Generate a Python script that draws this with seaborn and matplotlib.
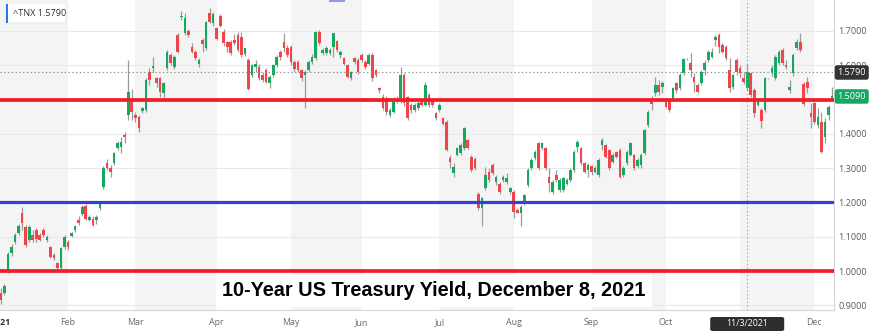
import numpy as np
import pandas as pd
import matplotlib
matplotlib.use("Agg")
import matplotlib.pyplot as plt
import seaborn as sns
from matplotlib.patches import Rectangle, FancyBboxPatch
from matplotlib.transforms import blended_transform_factory

sns.set_theme(style="white")
plt.rcParams["font.family"] = ["Open Sans", "DejaVu Sans"]

# ---------------- data (daily ^TNX candles, Jan 4 - Dec 8, 2021) ----------------
open_ = [
    0.935, 0.935, 1.000, 1.052, 1.086, 1.110, 1.168, 1.129, 1.090, 1.105, 1.120, 1.105, 1.120, 1.090, 1.069, 1.048, 1.022, 1.008, 1.070,
    1.085, 1.102, 1.120, 1.148, 1.166, 1.190, 1.150, 1.153, 1.148, 1.183, 1.246, 1.314, 1.300, 1.314, 1.358, 1.362, 1.398, 1.455, 1.500,
    1.455, 1.450, 1.466, 1.470, 1.581, 1.593, 1.562, 1.562, 1.520, 1.591, 1.630, 1.595, 1.688, 1.742, 1.693, 1.700, 1.654, 1.640, 1.605, 1.675, 1.649, 1.753, 1.722,
    1.708, 1.745, 1.698, 1.668, 1.669, 1.675, 1.688, 1.683, 1.633, 1.615, 1.571, 1.596, 1.596, 1.572, 1.586, 1.547, 1.572, 1.600, 1.640, 1.668, 1.650,
    1.654, 1.610, 1.610, 1.586, 1.571, 1.586, 1.610, 1.620, 1.698, 1.635, 1.635, 1.635, 1.654, 1.670, 1.630, 1.620, 1.600, 1.562, 1.620, 1.615,
    1.630, 1.610, 1.605, 1.630, 1.586, 1.535, 1.508, 1.503, 1.455, 1.464, 1.498, 1.499, 1.571, 1.508, 1.484, 1.469, 1.474, 1.494, 1.484, 1.513, 1.498, 1.460,
    1.469, 1.445, 1.435, 1.329, 1.285, 1.338, 1.343, 1.358, 1.382, 1.333, 1.328, 1.226, 1.183, 1.241, 1.290, 1.309, 1.260, 1.255, 1.265, 1.260, 1.231,
    1.231, 1.178, 1.168, 1.197, 1.251, 1.300, 1.329, 1.372, 1.358, 1.358, 1.275, 1.231, 1.280, 1.236, 1.236, 1.255, 1.265, 1.294, 1.362, 1.358, 1.314, 1.294,
    1.305, 1.290, 1.280, 1.367, 1.367, 1.353, 1.319, 1.348, 1.353, 1.280, 1.314, 1.338, 1.338, 1.305, 1.310, 1.343, 1.426, 1.494, 1.518, 1.542, 1.537,
    1.494, 1.499, 1.499, 1.547, 1.533, 1.578, 1.617, 1.606, 1.567, 1.542, 1.547, 1.586, 1.616, 1.625, 1.674, 1.688, 1.659, 1.654, 1.586, 1.537, 1.615,
    1.591, 1.562, 1.533, 1.576, 1.528, 1.484, 1.470, 1.470, 1.562, 1.576, 1.562, 1.606, 1.645, 1.601, 1.528, 1.576, 1.650, 1.669, 1.545, 1.552, 1.460,
    1.489, 1.426, 1.435, 1.392, 1.455, 1.505,
]
high = [
    0.950, 0.962, 1.056, 1.080, 1.110, 1.136, 1.187, 1.134, 1.134, 1.120, 1.125, 1.110, 1.125, 1.105, 1.073, 1.053, 1.027, 1.071, 1.105,
    1.090, 1.115, 1.135, 1.160, 1.192, 1.195, 1.163, 1.160, 1.163, 1.200, 1.305, 1.328, 1.309, 1.348, 1.378, 1.392, 1.405, 1.615, 1.530,
    1.465, 1.455, 1.478, 1.562, 1.591, 1.625, 1.565, 1.565, 1.550, 1.645, 1.635, 1.630, 1.693, 1.757, 1.752, 1.705, 1.665, 1.645, 1.620, 1.680, 1.730, 1.766, 1.755,
    1.712, 1.750, 1.705, 1.670, 1.675, 1.690, 1.698, 1.698, 1.650, 1.620, 1.605, 1.615, 1.605, 1.580, 1.591, 1.572, 1.605, 1.630, 1.645, 1.693, 1.660,
    1.660, 1.615, 1.615, 1.590, 1.586, 1.615, 1.632, 1.700, 1.703, 1.650, 1.655, 1.650, 1.695, 1.675, 1.645, 1.625, 1.605, 1.583, 1.625, 1.620,
    1.635, 1.615, 1.635, 1.635, 1.590, 1.538, 1.515, 1.510, 1.475, 1.508, 1.510, 1.595, 1.576, 1.510, 1.490, 1.490, 1.495, 1.500, 1.550, 1.518, 1.505, 1.465,
    1.490, 1.450, 1.440, 1.338, 1.314, 1.362, 1.372, 1.420, 1.385, 1.338, 1.333, 1.231, 1.217, 1.304, 1.300, 1.314, 1.280, 1.260, 1.280, 1.285, 1.246,
    1.236, 1.183, 1.193, 1.226, 1.300, 1.330, 1.352, 1.377, 1.377, 1.362, 1.300, 1.265, 1.296, 1.270, 1.275, 1.270, 1.300, 1.352, 1.382, 1.362, 1.318, 1.314,
    1.310, 1.305, 1.330, 1.387, 1.370, 1.355, 1.343, 1.350, 1.360, 1.305, 1.352, 1.375, 1.340, 1.330, 1.345, 1.415, 1.470, 1.510, 1.567, 1.557, 1.555,
    1.500, 1.505, 1.537, 1.552, 1.576, 1.620, 1.620, 1.635, 1.577, 1.547, 1.586, 1.615, 1.645, 1.650, 1.688, 1.693, 1.665, 1.660, 1.620, 1.575, 1.620,
    1.600, 1.580, 1.605, 1.581, 1.533, 1.505, 1.475, 1.567, 1.564, 1.600, 1.630, 1.645, 1.650, 1.615, 1.557, 1.635, 1.676, 1.693, 1.550, 1.567, 1.489,
    1.494, 1.474, 1.465, 1.445, 1.484, 1.537,
]
low = [
    0.905, 0.930, 0.995, 1.045, 1.080, 1.105, 1.120, 1.070, 1.085, 1.085, 1.085, 1.087, 1.100, 1.085, 1.038, 1.032, 1.000, 1.003, 1.065,
    1.062, 1.098, 1.115, 1.135, 1.160, 1.148, 1.145, 1.130, 1.138, 1.178, 1.240, 1.294, 1.275, 1.309, 1.353, 1.343, 1.373, 1.440, 1.440,
    1.435, 1.405, 1.460, 1.465, 1.542, 1.581, 1.537, 1.508, 1.500, 1.586, 1.600, 1.590, 1.635, 1.733, 1.688, 1.683, 1.635, 1.615, 1.595, 1.640, 1.645, 1.722, 1.715,
    1.675, 1.712, 1.655, 1.640, 1.630, 1.660, 1.640, 1.625, 1.628, 1.528, 1.565, 1.580, 1.557, 1.552, 1.547, 1.535, 1.565, 1.596, 1.615, 1.640, 1.625,
    1.600, 1.580, 1.580, 1.555, 1.474, 1.580, 1.605, 1.615, 1.660, 1.630, 1.630, 1.630, 1.625, 1.640, 1.620, 1.600, 1.562, 1.557, 1.605, 1.575,
    1.610, 1.590, 1.600, 1.555, 1.565, 1.518, 1.470, 1.455, 1.450, 1.460, 1.490, 1.489, 1.480, 1.440, 1.460, 1.465, 1.470, 1.480, 1.480, 1.478, 1.478, 1.440,
    1.465, 1.425, 1.350, 1.300, 1.275, 1.335, 1.338, 1.353, 1.355, 1.290, 1.295, 1.178, 1.130, 1.236, 1.260, 1.280, 1.250, 1.226, 1.260, 1.255, 1.226,
    1.154, 1.168, 1.130, 1.192, 1.246, 1.295, 1.325, 1.294, 1.353, 1.295, 1.231, 1.226, 1.260, 1.230, 1.230, 1.250, 1.260, 1.290, 1.348, 1.310, 1.285, 1.275,
    1.280, 1.285, 1.275, 1.352, 1.330, 1.295, 1.315, 1.330, 1.270, 1.275, 1.310, 1.335, 1.295, 1.300, 1.300, 1.338, 1.420, 1.470, 1.510, 1.513, 1.518,
    1.475, 1.465, 1.495, 1.520, 1.528, 1.573, 1.615, 1.567, 1.523, 1.518, 1.542, 1.571, 1.610, 1.620, 1.655, 1.635, 1.635, 1.615, 1.523, 1.530, 1.572,
    1.567, 1.545, 1.528, 1.508, 1.450, 1.480, 1.416, 1.465, 1.560, 1.570, 1.557, 1.600, 1.600, 1.590, 1.520, 1.570, 1.645, 1.640, 1.480, 1.518, 1.416,
    1.430, 1.416, 1.345, 1.372, 1.440, 1.499,
]
close = [
    0.915, 0.957, 1.050, 1.071, 1.105, 1.131, 1.139, 1.076, 1.129, 1.090, 1.093, 1.090, 1.105, 1.100, 1.042, 1.037, 1.008, 1.066, 1.098,
    1.071, 1.110, 1.130, 1.139, 1.186, 1.153, 1.158, 1.135, 1.158, 1.195, 1.300, 1.300, 1.290, 1.343, 1.372, 1.376, 1.390, 1.522, 1.465,
    1.447, 1.416, 1.474, 1.557, 1.557, 1.598, 1.547, 1.523, 1.548, 1.640, 1.606, 1.625, 1.640, 1.744, 1.737, 1.688, 1.640, 1.620, 1.615, 1.663, 1.727, 1.727, 1.750,
    1.678, 1.715, 1.664, 1.654, 1.635, 1.665, 1.644, 1.630, 1.649, 1.532, 1.600, 1.605, 1.562, 1.557, 1.552, 1.567, 1.600, 1.625, 1.623, 1.650, 1.630,
    1.610, 1.590, 1.586, 1.562, 1.581, 1.610, 1.625, 1.698, 1.664, 1.644, 1.649, 1.644, 1.693, 1.645, 1.640, 1.605, 1.567, 1.581, 1.610, 1.581,
    1.615, 1.596, 1.630, 1.562, 1.571, 1.527, 1.474, 1.464, 1.469, 1.503, 1.503, 1.571, 1.489, 1.445, 1.469, 1.484, 1.489, 1.484, 1.542, 1.484, 1.484, 1.445,
    1.484, 1.430, 1.353, 1.319, 1.304, 1.358, 1.367, 1.416, 1.358, 1.294, 1.299, 1.183, 1.212, 1.280, 1.265, 1.285, 1.275, 1.231, 1.275, 1.270, 1.241,
    1.173, 1.170, 1.188, 1.222, 1.295, 1.324, 1.348, 1.300, 1.372, 1.300, 1.256, 1.260, 1.265, 1.265, 1.270, 1.265, 1.294, 1.348, 1.377, 1.314, 1.290, 1.309,
    1.290, 1.300, 1.324, 1.382, 1.333, 1.300, 1.338, 1.333, 1.275, 1.300, 1.348, 1.372, 1.300, 1.325, 1.338, 1.411, 1.465, 1.488, 1.542, 1.523, 1.547,
    1.479, 1.470, 1.533, 1.528, 1.572, 1.617, 1.618, 1.586, 1.552, 1.523, 1.581, 1.606, 1.640, 1.640, 1.683, 1.654, 1.640, 1.620, 1.533, 1.572, 1.581,
    1.576, 1.552, 1.579, 1.513, 1.460, 1.499, 1.436, 1.562, 1.563, 1.591, 1.625, 1.640, 1.606, 1.596, 1.538, 1.630, 1.669, 1.645, 1.487, 1.533, 1.450,
    1.435, 1.450, 1.348, 1.435, 1.479, 1.509,
]
market_holidays = ["2021-01-18", "2021-02-15", "2021-04-02", "2021-05-31",
                   "2021-07-05", "2021-09-06", "2021-11-25"]
month_labels = ["2021", "Feb", "Mar", "Apr", "May", "Jun", "Jul", "Aug", "Sep", "Oct", "Nov", "Dec"]
y_ticks = [0.9, 1.0, 1.1, 1.2, 1.3, 1.4, 1.5, 1.6, 1.7]
red_levels = [1.0, 1.5]
blue_levels = [1.2]
hover_date = "2021-11-03"
hover_value = 1.579
last_value = 1.509
title = "10-Year US Treasury Yield, December 8, 2021"

# ---------------- frame ----------------
dates = pd.bdate_range("2021-01-04", "2021-12-08")
dates = dates[~dates.isin(pd.to_datetime(market_holidays))]
df = pd.DataFrame({"date": dates, "open": open_, "high": high, "low": low, "close": close})
df["idx"] = np.arange(len(df))
df["up"] = df["close"] >= df["open"]
month_start = df.groupby(df["date"].dt.month)["idx"].min().tolist()

W, H = 870, 333
fig = plt.figure(figsize=(W / 100, H / 100), dpi=100)
fig.patch.set_facecolor("white")
ax = fig.add_axes([0, 23 / H, 834 / W, 310 / H])
ax.set_facecolor("white")

x_left, x_right = -0.254, 235.54
ax.set_xlim(x_left, x_right)
ax.set_ylim(0.8863, 1.7903)

# alternate month shading (Jan, Mar, May, Jul, Sep, Nov)
bounds = month_start + [x_right]
for m in range(0, 12, 2):
    a = x_left if m == 0 else bounds[m]
    ax.axvspan(a, bounds[m + 1], color="#f4f4f4", lw=0, zorder=0)

for t in y_ticks:
    ax.axhline(t, color="#e9e9e9", lw=0.8, zorder=0.5)

# candles
green, red = "#16a85e", "#f0464b"
ax.vlines(df["idx"], df["low"], df["high"], color="#9b9b9b", lw=0.9, zorder=2)
body_bot = np.minimum(df["open"], df["close"])
body_h = np.maximum(np.abs(df["close"] - df["open"]), 0.002)
ax.bar(df["idx"], body_h, bottom=body_bot, width=0.74,
       color=np.where(df["up"], green, red), lw=0, zorder=3)

# dotted crosshair
hover_idx = int(df.loc[df["date"] == pd.Timestamp(hover_date), "idx"].iloc[0])
ax.axhline(hover_value, color="#8f8f8f", lw=0.8, ls=(0, (1.2, 2.2)), zorder=4)
ax.axvline(hover_idx, color="#a0a0a0", lw=0.8, ls=(0, (1.2, 2.2)), zorder=4)

# support / resistance lines
for lv in red_levels:
    ax.axhline(lv, color="#ee1f2a", lw=2.7, zorder=5)
for lv in blue_levels:
    ax.axhline(lv, color="#3a3fd2", lw=2.3, zorder=5)

# axes styling
for s in ["left", "top"]:
    ax.spines[s].set_visible(False)
ax.spines["bottom"].set_color("#d6d6d6")
ax.spines["bottom"].set_linewidth(0.8)
ax.spines["right"].set_color("#d6d6d6")
ax.spines["right"].set_linewidth(0.8)
ax.yaxis.tick_right()
ax.set_yticks(y_ticks)
ax.set_yticklabels([f"{t:.4f}" for t in y_ticks])
ax.tick_params(axis="y", length=0, pad=3.2, labelsize=6.6, labelcolor="#5a5a5a")
ax.set_xticks(month_start)
ax.set_xticklabels(month_labels)
ax.tick_params(axis="x", length=0, pad=5.5, labelsize=6.4, labelcolor="#6a6a6a")
xt = ax.get_xticklabels()
xt[0].set_color("#333333")
xt[0].set_fontweight("bold")
# the "Nov" label is hidden beneath the crosshair date tag in the source chart
xt[month_labels.index("Nov")].set_visible(False)
ax.grid(False)


def fx(px):
    return px / W


def fy(py):
    return 1 - py / H


# legend chip (top-left)
fig.add_artist(FancyBboxPatch((fx(6), fy(23)), fx(60), 20 / H, boxstyle="round,pad=0,rounding_size=0.002",
                              fc="white", ec="#e6e6e6", lw=0.6, transform=fig.transFigure, zorder=10))
fig.add_artist(Rectangle((fx(6), fy(23)), fx(2), 19 / H, fc="#1e7cf0", ec="none",
                         transform=fig.transFigure, zorder=11))
fig.text(fx(13), fy(14), f"^TNX {hover_value:.4f}", fontsize=6.6, color="#333333",
         va="center", ha="left", zorder=12)

# small marker at the top edge
fig.add_artist(Rectangle((fx(329), fy(2)), fx(16), 2 / H, fc="#8d9be6", ec="none",
                         transform=fig.transFigure, zorder=10))

# value tags on the right axis
tr = blended_transform_factory(ax.transAxes, ax.transData)
ax.text(837.5 / 834, hover_value, f"{hover_value:.4f}", transform=tr, fontsize=6.6, color="white",
        ha="left", va="center", clip_on=False, zorder=12,
        bbox=dict(boxstyle="round,pad=0.3,rounding_size=0.25", fc="#333333", ec="none"))
ax.text(837.5 / 834, last_value, f"{last_value:.4f}", transform=tr, fontsize=6.6, color="white",
        ha="left", va="center", clip_on=False, zorder=12,
        bbox=dict(boxstyle="round,pad=0.3,rounding_size=0.25", fc="#14a862", ec="none"))

# date tag under the crosshair
hx = 0.9 + 3.537 * hover_idx
fig.add_artist(FancyBboxPatch((fx(hx - 37), fy(331)), fx(74), 14 / H,
                              boxstyle="round,pad=0,rounding_size=0.004", fc="#2e2e2e", ec="none",
                              transform=fig.transFigure, zorder=10))
fig.text(fx(hx), fy(324), pd.Timestamp(hover_date).strftime("%-m/%-d/%Y"), fontsize=6.4,
         color="white", ha="center", va="center", zorder=11)

# title
fig.text(fx(434), fy(291), title, fontsize=14.3, fontweight="bold", color="black",
         family=["Liberation Sans", "DejaVu Sans"], ha="center", va="center", zorder=20,
         bbox=dict(boxstyle="square,pad=0.32", fc="white", ec="none"))

fig.savefig("out.png", dpi=100, facecolor="white")
